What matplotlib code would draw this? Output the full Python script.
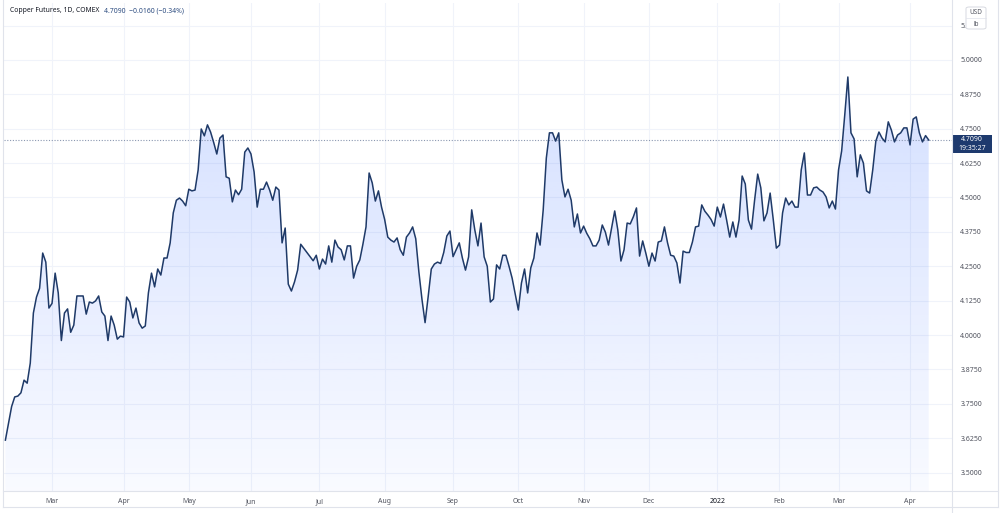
import numpy as np
import pandas as pd
import matplotlib
matplotlib.use("Agg")
import matplotlib.pyplot as plt
from matplotlib.patches import Polygon, Rectangle, FancyBboxPatch
from matplotlib.lines import Line2D
import matplotlib.transforms as mtransforms

# ---------------- data ----------------
start_date = "2021-02-05"
end_date = "2022-04-11"
holidays = ["2021-02-15", "2021-04-02", "2021-05-31", "2021-07-05", "2021-09-06",
            "2021-11-25", "2021-12-24", "2022-01-17", "2022-02-21"]

prices = [
    3.618, 3.68, 3.74, 3.775, 3.778, 3.79, 3.836, 3.825, 3.898, 4.08,
    4.138, 4.17, 4.298, 4.265, 4.098, 4.115, 4.225, 4.153, 3.98, 4.08,
    4.095, 4.01, 4.036, 4.142, 4.142, 4.142, 4.076, 4.12, 4.116, 4.124,
    4.142, 4.084, 4.069, 3.98, 4.069, 4.036, 3.985, 3.996, 3.993, 4.138,
    4.12, 4.062, 4.098, 4.044, 4.025, 4.033, 4.153, 4.225, 4.175, 4.24,
    4.218, 4.28, 4.28, 4.335, 4.444, 4.49, 4.498, 4.487, 4.47, 4.53,
    4.524, 4.527, 4.6, 4.749, 4.724, 4.764, 4.738, 4.70, 4.658, 4.716,
    4.727, 4.575, 4.57, 4.484, 4.527, 4.51, 4.53, 4.665, 4.68, 4.658,
    4.593, 4.465, 4.53, 4.53, 4.556, 4.527, 4.49, 4.538, 4.527, 4.335,
    4.389, 4.185, 4.16, 4.193, 4.236, 4.33, 4.315, 4.30, 4.285, 4.27,
    4.29, 4.24, 4.276, 4.258, 4.324, 4.265, 4.345, 4.32, 4.31, 4.273,
    4.324, 4.324, 4.207, 4.25, 4.273, 4.33, 4.393, 4.589, 4.553, 4.487,
    4.524, 4.465, 4.42, 4.356, 4.345, 4.338, 4.353, 4.31, 4.29, 4.356,
    4.371, 4.393, 4.35, 4.23, 4.13, 4.045, 4.14, 4.24, 4.258, 4.265,
    4.26, 4.30, 4.36, 4.378, 4.285, 4.31, 4.335, 4.28, 4.236, 4.284,
    4.455, 4.382, 4.324, 4.407, 4.284, 4.25, 4.12, 4.131, 4.255, 4.24,
    4.29, 4.29, 4.25, 4.207, 4.15, 4.091, 4.189, 4.24, 4.153, 4.244,
    4.28, 4.371, 4.327, 4.455, 4.643, 4.735, 4.735, 4.705, 4.735, 4.564,
    4.502, 4.53, 4.49, 4.393, 4.44, 4.371, 4.396, 4.37, 4.35, 4.324,
    4.324, 4.345, 4.40, 4.374, 4.327, 4.39, 4.451, 4.382, 4.269, 4.31,
    4.407, 4.404, 4.43, 4.462, 4.287, 4.342, 4.298, 4.25, 4.298, 4.269,
    4.338, 4.342, 4.393, 4.335, 4.29, 4.287, 4.262, 4.189, 4.305, 4.30,
    4.30, 4.338, 4.393, 4.396, 4.473, 4.45, 4.436, 4.42, 4.396, 4.465,
    4.429, 4.476, 4.418, 4.356, 4.411, 4.356, 4.418, 4.578, 4.549, 4.418,
    4.385, 4.49, 4.585, 4.535, 4.415, 4.444, 4.516, 4.42, 4.316, 4.327,
    4.444, 4.498, 4.473, 4.487, 4.465, 4.465, 4.6, 4.662, 4.509, 4.509,
    4.535, 4.538, 4.527, 4.52, 4.502, 4.462, 4.487, 4.458, 4.6, 4.669,
    4.80, 4.938, 4.735, 4.713, 4.575, 4.655, 4.625, 4.524, 4.516, 4.60,
    4.705, 4.738, 4.716, 4.702, 4.775, 4.745, 4.702, 4.727, 4.735, 4.753,
    4.753, 4.691, 4.785, 4.793, 4.735, 4.702, 4.725, 4.709,
]

price_ticks = [3.5, 3.625, 3.75, 3.875, 4.0, 4.125, 4.25, 4.375, 4.5, 4.625, 4.75, 4.875, 5.0, 5.125]
# the top label is mostly hidden behind the unit box, only "5." shows
price_labels = ["3.5000", "3.6250", "3.7500", "3.8750", "4.0000", "4.1250", "4.2500",
                "4.3750", "4.5000", "4.6250", "4.7500", "4.8750", "5.0000", "5."]
title_name = "Copper Futures, 1D, COMEX"
last_price = 4.7090
change = -0.0160
change_pct = -0.34
countdown = "19:35:27"

# ---------------- calendar ----------------
dates = pd.bdate_range(start_date, end_date)
dates = dates[~dates.isin(pd.to_datetime(holidays))][:len(prices)]
x = np.arange(len(prices))
y = np.array(prices)

month_idx, month_lab = [], []
for i in range(1, len(dates)):
    if dates[i].month != dates[i - 1].month:
        month_idx.append(i)
        month_lab.append(str(dates[i].year) if dates[i].month == 1 else dates[i].strftime("%b"))

# ---------------- figure ----------------
plt.rcParams["font.family"] = ["Noto Sans", "DejaVu Sans"]
W, H = 1000, 513
fig = plt.figure(figsize=(W / 100, H / 100), dpi=100)
fig.patch.set_facecolor("white")
ax = fig.add_axes([4 / W, 1 - 491 / H, 948 / W, 488 / H])

ymin, ymax = 3.433, 5.207
xmin, xmax = -0.45, 304.5

grid_c = "#f0f3fa"
for p in price_ticks:
    ax.axhline(p, color=grid_c, lw=0.8, zorder=0)
for m in month_idx:
    ax.axvline(m, color=grid_c, lw=0.8, zorder=0)

# gradient area fill
verts = [(x[0], ymin)] + list(zip(x, y)) + [(x[-1], ymin)]
poly = Polygon(verts, closed=True, facecolor="none", edgecolor="none")
ax.add_patch(poly)
n = 256
alpha = np.linspace(0.03, 0.23, n)
rgba = np.zeros((n, 1, 4))
rgba[:, 0, 0] = 41 / 255
rgba[:, 0, 1] = 98 / 255
rgba[:, 0, 2] = 255 / 255
rgba[:, 0, 3] = alpha
img = ax.imshow(rgba, extent=[x[0], x[-1], ymin, ymax], origin="lower",
                aspect="auto", zorder=1, interpolation="bilinear")
img.set_clip_path(poly)

ax.plot(x, y, color="#1f3a68", lw=1.1, zorder=3, solid_joinstyle="round")

# last price dotted line
ax.axhline(last_price, color="#8a97b0", lw=0.8, ls=(0, (1, 1.5)), zorder=2)

ax.set_xlim(xmin, xmax)
ax.set_ylim(ymin, ymax)

for s in ax.spines.values():
    s.set_visible(False)

ax.yaxis.tick_right()
ax.set_yticks(price_ticks)
ax.set_yticklabels(price_labels)
ax.tick_params(axis="y", length=0, pad=6, labelsize=5.0, labelcolor="#50535e")
ax.set_xticks(month_idx)
ax.set_xticklabels(month_lab)
ax.tick_params(axis="x", length=0, pad=5, labelsize=5.0, labelcolor="#50535e")
for lab in ax.get_xticklabels():
    if lab.get_text().isdigit():
        lab.set_fontweight("bold")
        lab.set_color("#131722")

# border / separator lines
line_c = "#e0e3eb"
fig.add_artist(Line2D([952 / W, 952 / W], [0, 1], color=line_c, lw=0.8))
fig.add_artist(Line2D([3 / W, 998 / W], [1 - 491 / H, 1 - 491 / H], color=line_c, lw=0.8))
fig.add_artist(Line2D([3 / W, 998 / W], [1 - 507 / H, 1 - 507 / H], color=line_c, lw=0.8))
fig.add_artist(Line2D([3 / W, 3 / W], [1 - 507 / H, 1], color=line_c, lw=0.8))
fig.add_artist(Line2D([998 / W, 998 / W], [1 - 507 / H, 1], color=line_c, lw=0.8))

# title (numbers placed right after the name)
t1 = fig.text(10 / W, 1 - 11 / H, title_name, fontsize=4.9, color="#131722", va="center", ha="left")
renderer = fig.canvas.get_renderer()
bb = t1.get_window_extent(renderer=renderer)
fig.text((bb.x1 + 5) / W, 1 - 11 / H,
         f"{last_price:.4f}  \u2212{abs(change):.4f} (\u2212{abs(change_pct):.2f}%)",
         fontsize=4.9, color="#2a4a7f", va="center", ha="left")

# USD / lb box
box = FancyBboxPatch((966 / W, 1 - 29 / H), 20 / W, 22 / H,
                     boxstyle="round,pad=0,rounding_size=0.003",
                     transform=fig.transFigure, facecolor="white", edgecolor="#d1d4dc", lw=0.6, zorder=5)
fig.add_artist(box)
fig.add_artist(Line2D([966 / W, 986 / W], [1 - 18 / H, 1 - 18 / H], color="#e0e3eb", lw=0.5, zorder=6))
fig.text(976 / W, 1 - 13 / H, "USD", fontsize=4.6, color="#50535e", ha="center", va="center", zorder=7)
fig.text(976 / W, 1 - 24 / H, "lb", fontsize=4.6, color="#50535e", ha="center", va="center", zorder=7)

# last price label box
trans = mtransforms.blended_transform_factory(ax.transAxes, ax.transData)
rect = Rectangle((1.0, last_price - 0.0475), 40 / 948, 0.0655, transform=trans,
                 facecolor="#1e3a6e", edgecolor="none", clip_on=False, zorder=6)
ax.add_patch(rect)
ax.text(1.0 + 20 / 948, last_price, f"{last_price:.4f}", transform=trans, ha="center", va="center",
        fontsize=5.0, fontweight="bold", color="white", clip_on=False, zorder=7)
ax.text(1.0 + 20 / 948, last_price - 0.03, countdown, transform=trans, ha="center", va="center",
        fontsize=5.0, color="white", clip_on=False, zorder=7)

fig.savefig("out.png", dpi=100, facecolor="white")
